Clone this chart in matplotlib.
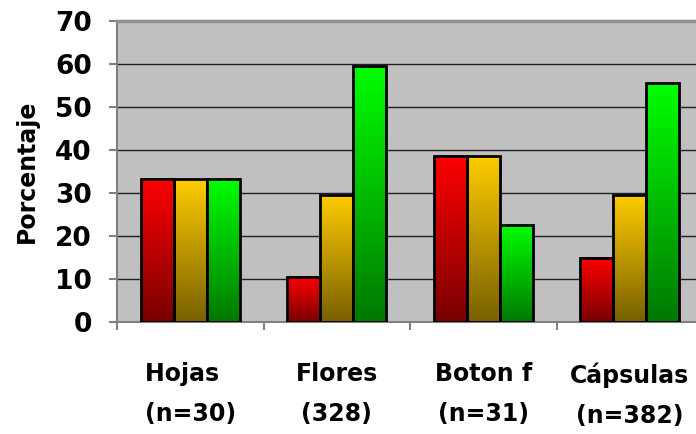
import numpy as np
import matplotlib.pyplot as plt
from matplotlib.colors import LinearSegmentedColormap
from matplotlib.ticker import MultipleLocator

# datos
categorias = ['Hojas\u00a0\u00a0\n(n=30)', 'Flores\n(328)', 'Boton f\n(n=31)', 'Cápsulas\n(n=382)']
serie_roja = [33.3, 10.5, 38.7, 15.0]
serie_amarilla = [33.3, 29.6, 38.7, 29.5]
serie_verde = [33.3, 59.5, 22.6, 55.5]

# colores (arriba -> abajo)
grad_rojo = ('#ff0000', '#780000')
grad_amarillo = ('#ffcc00', '#786000')
grad_verde = ('#00ff00', '#007800')

plt.rcParams['font.family'] = ['DejaVu Sans']
plt.rcParams['font.weight'] = 'bold'

fig = plt.figure(figsize=(6.96, 4.34), dpi=100)
ax = fig.add_axes([117 / 696, 1 - 322 / 434, 586 / 696, 301 / 434])
ax.set_facecolor('#c0c0c0')

x = np.arange(len(categorias))
ancho = 0.225
grad = np.linspace(1, 0, 256).reshape(-1, 1)

series = [(serie_roja, grad_rojo), (serie_amarilla, grad_amarillo), (serie_verde, grad_verde)]
for i, (valores, colores) in enumerate(series):
    barras = ax.bar(x + (i - 1) * ancho, valores, ancho, facecolor='none',
                    edgecolor='black', linewidth=2, zorder=4)
    cmap = LinearSegmentedColormap.from_list('g%d' % i, [colores[1], colores[0]])
    for b in barras:
        x0, w, h = b.get_x(), b.get_width(), b.get_height()
        ax.imshow(grad, cmap=cmap, extent=[x0, x0 + w, 0, h], aspect='auto',
                  zorder=3, vmin=0, vmax=1, origin='upper')

ax.set_xlim(-0.5, 3.5)
ax.set_ylim(0, 70)
ax.yaxis.set_major_locator(MultipleLocator(10))
ax.yaxis.grid(True, color='#202020', linewidth=1)
ax.set_axisbelow(True)

for s in ['left', 'bottom']:
    ax.spines[s].set_color('#808080')
    ax.spines[s].set_linewidth(1.5)
ax.spines['top'].set_color('#909090')
ax.spines['top'].set_linewidth(2.5)
ax.spines['right'].set_visible(False)

ax.set_xticks(x)
ax.set_xticklabels(categorias, fontsize=17, fontweight='bold', linespacing=1.85)
ax.set_xticks(np.arange(-0.5, 4, 1), minor=True)
ax.tick_params(axis='x', which='major', length=0, pad=29)
ax.tick_params(axis='x', which='minor', length=6, color='#808080', width=1.5)
ax.tick_params(axis='y', length=6, color='#808080', width=1.5, labelsize=19, pad=12)
for t in ax.get_yticklabels():
    t.set_fontweight('bold')

ax.set_ylabel('Porcentaje', fontsize=17, fontweight='bold', labelpad=12)

plt.savefig('out.png', dpi=100)
